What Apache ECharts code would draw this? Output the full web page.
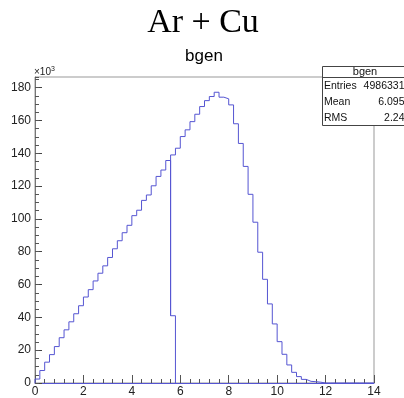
<!DOCTYPE html>
<html><head><meta charset="utf-8">
<script src="https://cdn.jsdelivr.net/npm/echarts@6/dist/echarts.min.js"></script>
<style>html,body{margin:0;padding:0;background:#fff}#c{width:404px;height:398px}</style>
</head><body><div id="c"></div>
<script>
// histogram bgen, bin width 0.2, values in units of 10^3 entries
const binWidth = 0.2;
const leftStart = 0;
const leftBins = [2.4, 7.6, 12.7, 17.3, 22.2, 27.6, 32.4, 37.3, 42.2, 47.1,
  52.4, 56.9, 62.2, 66.9, 71.4, 76.5, 81.8, 86.7, 91.6, 96.1,
  102, 105.3, 111.3, 114.6, 120.2, 125.9, 129.8, 135.6, 41];
const rightStart = 5.6;
const rightBins = [139, 143.1, 150.2, 154.3, 159.3, 163.8, 168.5, 172.1, 174.6, 177.2,
  174.2, 173.2, 169.5, 158, 146, 132, 115, 98, 79.7, 63.2,
  48.2, 36, 25.2, 17.5, 11, 6.5, 3.9, 2.2, 1.0, 0.8, 0.5,
  0, 0, 0, 0, 0, 0, 0, 0, 0, 0, 0];
const statsTitle = 'bgen';
const statsLabels = ['Entries', 'Mean', 'RMS'];
const statsValues = ['4986331', '6.095', '2.24'];

const lineColor = '#5555d2';

function outline(start, bins, startLevel) {
  const pts = [[start, startLevel]];
  bins.forEach((v, i) => {
    const lo = +(start + i * binWidth).toFixed(4);
    const hi = +(start + (i + 1) * binWidth).toFixed(4);
    pts.push([lo, v], [hi, v]);
  });
  pts.push([+(start + bins.length * binWidth).toFixed(4), 0]);
  return pts;
}

const chart = echarts.init(document.getElementById('c'), null, {renderer: 'canvas'});
const labelFont = {fontFamily: 'Liberation Sans', fontSize: 12, color: '#222'};

const statsGraphics = [
  {type: 'rect', shape: {x: 322.5, y: 66.5, width: 90, height: 59}, style: {fill: '#fff', stroke: '#444', lineWidth: 1}, z: 100},
  {type: 'line', shape: {x1: 322.5, y1: 77.5, x2: 412, y2: 77.5}, style: {stroke: '#444', lineWidth: 1}, z: 101},
  {type: 'text', x: 365, y: 72, style: {text: statsTitle, font: '11px "Liberation Sans"', fill: '#111', align: 'center', verticalAlign: 'middle'}, z: 102}
];
statsLabels.forEach((lab, i) => {
  const yy = 86.5 + i * 15.6;
  statsGraphics.push({type: 'text', x: 324, y: yy, style: {text: lab, font: '10.5px "Liberation Sans"', fill: '#111', align: 'left', verticalAlign: 'middle'}, z: 102});
  statsGraphics.push({type: 'text', x: 404.5, y: yy, style: {text: statsValues[i], font: '10.5px "Liberation Sans"', fill: '#111', align: 'right', verticalAlign: 'middle'}, z: 102});
});

chart.setOption({
  animation: false,
  grid: {left: 35, right: 30, top: 77, bottom: 15, show: true, borderColor: '#999', borderWidth: 1, containLabel: false},
  xAxis: {
    type: 'value', min: 0, max: 14, interval: 2,
    axisLine: {show: true, lineStyle: {color: lineColor, width: 1}},
    axisTick: {show: true, inside: true, length: 8, lineStyle: {color: '#555'}},
    minorTick: {show: true, splitNumber: 5, length: 4, lineStyle: {color: '#555'}},
    splitLine: {show: false},
    axisLabel: Object.assign({margin: 3}, labelFont)
  },
  yAxis: [{
    type: 'value', min: 0, max: 186.5, interval: 20, position: 'left',
    axisLine: {show: true, lineStyle: {color: '#777', width: 1}},
    axisTick: {show: true, inside: true, length: 7, lineStyle: {color: '#444'}},
    splitLine: {show: false},
    axisLabel: Object.assign({margin: 4, showMaxLabel: false, formatter: v => (v % 20 === 0 ? String(v) : '')}, labelFont)
  }, {
    type: 'value', min: 0, max: 186.5, interval: 5, position: 'left', offset: 0,
    axisLine: {show: false},
    axisTick: {show: true, inside: true, length: 4, lineStyle: {color: '#555'}},
    splitLine: {show: false},
    axisLabel: {show: false}
  }],
  series: [{
    type: 'line', data: outline(leftStart, leftBins, 0), showSymbol: false, symbol: 'none',
    lineStyle: {color: lineColor, width: 1}, z: 5, silent: true
  }, {
    type: 'line', data: outline(rightStart, rightBins, leftBins[leftBins.length - 1]), showSymbol: false, symbol: 'none',
    lineStyle: {color: lineColor, width: 1}, z: 5, silent: true
  }],
  graphic: [
    {type: 'text', x: 203, y: 23, style: {text: 'Ar + Cu', font: '34px "Liberation Serif"', fill: '#000', align: 'center', verticalAlign: 'middle'}},
    {type: 'text', x: 204, y: 56, style: {text: 'bgen', font: '17px "Liberation Sans"', fill: '#000', align: 'center', verticalAlign: 'middle'}},
    {type: 'text', x: 34, y: 72, style: {text: '{a|×10}{b|3}', rich: {a: {fontFamily: 'Liberation Sans', fontSize: 10, fill: '#222'}, b: {fontFamily: 'Liberation Sans', fontSize: 7, fill: '#222', verticalAlign: 'top', padding: [0, 0, 6, 0]}}, align: 'left', verticalAlign: 'middle'}},
    ...statsGraphics
  ]
});
</script></body></html>
